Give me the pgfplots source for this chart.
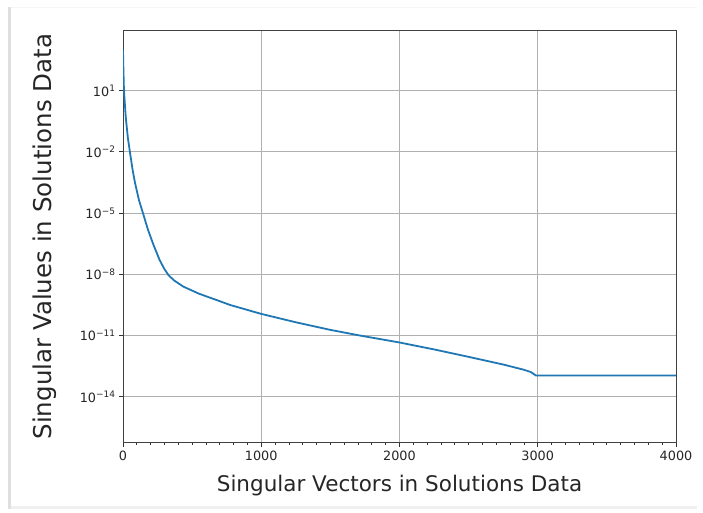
\documentclass[border=0pt]{standalone}
\usepackage{pgfplots}
\pgfplotsset{compat=1.18}
\usepackage{fontspec}
\setmainfont{DejaVu Sans}
\definecolor{mplblue}{HTML}{1F77B4}
\definecolor{gridgray}{HTML}{B0B0B0}
\definecolor{ticktext}{HTML}{262626}
\begin{document}
\begin{tikzpicture}
\path[use as bounding box] (-123pt,-70.3pt) rectangle (580pt,442.7pt);
\fill[gray!12] (-115pt,-66.5pt) rectangle (574pt,-63.5pt);
\fill[gray!25] (-115pt,-66.5pt) rectangle (-112pt,436pt);
\fill[gray!7] (-112pt,434.5pt) rectangle (574pt,436pt);
\begin{axis}[
  at={(0,0)}, anchor=south west,
  scale only axis,
  width=553pt, height=412pt,
  xmin=0, xmax=4000,
  ymode=log,
  ymin=5.6e-17, ymax=8.7e3,
  xtick={0,1000,2000,3000,4000},
  xticklabels={0,1000,2000,3000,4000},
  minor x tick num=9,
  ytick={1e1,1e-2,1e-5,1e-8,1e-11,1e-14},
  yticklabels={10\textsuperscript{1},10\textsuperscript{−2},10\textsuperscript{−5},10\textsuperscript{−8},10\textsuperscript{−11},10\textsuperscript{−14}},
  yminorticks=false,
  tick pos=left,
  tick align=outside,
  major tick length=4pt,
  minor tick length=2.2pt,
  tick style={black!80, line width=0.8pt},
  axis line style={black!75, line width=0.9pt},
  grid=major,
  major grid style={gridgray, line width=0.8pt},
  tick label style={font=\fontsize{12.8}{14}\selectfont, text=ticktext},
  xticklabel style={yshift=-1pt},
  xlabel={Singular Vectors in Solutions Data},
  ylabel={Singular Values in Solutions Data},
  xlabel style={at={(axis description cs:0.5,-0.103)}, anchor=center, font=\fontsize{21.5}{24}\selectfont, text=ticktext},
  ylabel style={at={(axis description cs:-0.141,0.5)}, anchor=center, rotate=0, font=\fontsize{24.5}{27}\selectfont, text=ticktext},
]
\addplot[mplblue, line width=1.8pt, line join=round] coordinates {
(0,1e3)
(2,2.0e2)
(7,10)
(20,0.501)
(35,0.0501)
(51,8.91e-3)
(70,1.26e-3)
(87,3.02e-4)
(115,4.47e-5)
(147,8.71e-6)
(180,1.58e-6)
(219,2.95e-7)
(265,5.01e-8)
(300,1.78e-8)
(330,8.91e-9)
(370,5.01e-9)
(436,2.51e-9)
(550,1.12e-9)
(677,5.50e-10)
(774,3.16e-10)
(1000,1.15e-10)
(1250,4.47e-11)
(1497,1.91e-11)
(1714,1e-11)
(2000,4.57e-12)
(2250,2.09e-12)
(2510,8.71e-13)
(2750,3.80e-13)
(2900,2.10e-13)
(2950,1.62e-13)
(2987,1.10e-13)
(4000,1.10e-13)
};
\end{axis}
\end{tikzpicture}
\end{document}
